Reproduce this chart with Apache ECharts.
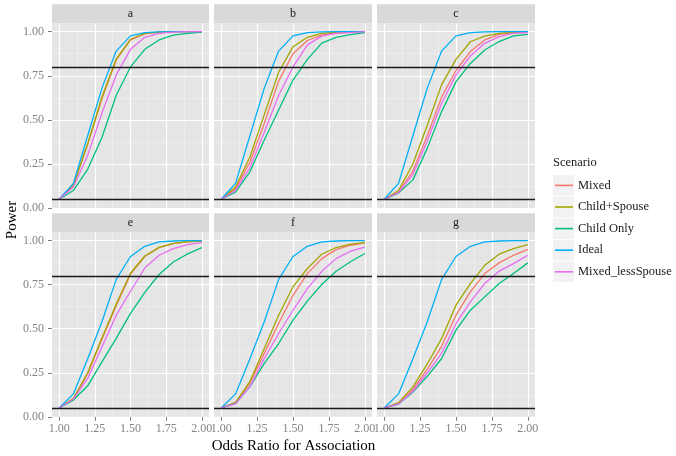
<!DOCTYPE html>
<html><head><meta charset="utf-8">
<script src="https://cdn.jsdelivr.net/npm/echarts@6/dist/echarts.min.js"></script>
<style>html,body{margin:0;padding:0;background:#fff}#c{width:676px;height:456px}</style>
</head><body><div id="c"></div>
<script>
// ---- data ----
const ODDS = [1.0, 1.1, 1.2, 1.3, 1.4, 1.5, 1.6, 1.7, 1.8, 1.9, 2.0];
const PANELS = ['a', 'b', 'c', 'e', 'f', 'g'];
const SCENARIOS = ['Mixed', 'Child+Spouse', 'Child Only', 'Ideal', 'Mixed_lessSpouse'];
const X_TICKS = [1.0, 1.25, 1.5, 1.75, 2.0];
const X_MINOR = [1.125, 1.375, 1.625, 1.875];
const Y_TICKS = [0, 0.25, 0.5, 0.75, 1.0];
const Y_MINOR = [0.125, 0.375, 0.625, 0.875];
const HLINES = [0.05, 0.8];

// rows: panels a, b, c, e, f, g
const MIXED = [
  [0.05,0.13,0.36,0.62,0.84,0.953,0.988,0.998,1,1,1],
  [0.05,0.11,0.26,0.48,0.72,0.875,0.95,0.98,0.995,0.999,1],
  [0.05,0.09,0.21,0.41,0.63,0.78,0.887,0.953,0.985,0.995,0.999],
  [0.05,0.10,0.245,0.44,0.63,0.81,0.91,0.96,0.983,0.993,0.997],
  [0.05,0.08,0.19,0.36,0.53,0.69,0.813,0.898,0.949,0.974,0.987],
  [0.05,0.075,0.155,0.27,0.40,0.577,0.709,0.813,0.874,0.917,0.95]
];
const CHILD_SPOUSE = [
  [0.05,0.13,0.365,0.63,0.845,0.957,0.99,0.998,1,1,1],
  [0.05,0.12,0.29,0.53,0.77,0.915,0.968,0.99,0.998,1,1],
  [0.05,0.10,0.25,0.47,0.70,0.843,0.943,0.975,0.99,0.997,1],
  [0.05,0.105,0.25,0.447,0.64,0.815,0.913,0.962,0.985,0.994,0.998],
  [0.05,0.082,0.20,0.388,0.577,0.738,0.842,0.923,0.961,0.98,0.989],
  [0.05,0.08,0.17,0.30,0.445,0.634,0.756,0.86,0.923,0.955,0.978]
];
const CHILD_ONLY = [
  [0.05,0.10,0.22,0.40,0.64,0.80,0.90,0.953,0.98,0.99,0.998],
  [0.05,0.09,0.206,0.386,0.556,0.726,0.843,0.935,0.968,0.983,0.995],
  [0.05,0.085,0.16,0.34,0.547,0.717,0.82,0.896,0.944,0.976,0.985],
  [0.05,0.095,0.176,0.312,0.445,0.587,0.706,0.808,0.879,0.925,0.961],
  [0.05,0.075,0.171,0.303,0.416,0.549,0.657,0.751,0.826,0.88,0.927],
  [0.05,0.072,0.14,0.23,0.331,0.492,0.605,0.681,0.757,0.813,0.874]
];
const IDEAL = [
  [0.05,0.14,0.41,0.68,0.89,0.976,0.995,0.999,1,1,1],
  [0.05,0.14,0.41,0.68,0.89,0.976,0.995,0.999,1,1,1],
  [0.05,0.14,0.41,0.68,0.89,0.976,0.995,0.999,1,1,1],
  [0.05,0.13,0.33,0.54,0.78,0.91,0.968,0.993,0.998,1,1],
  [0.05,0.13,0.33,0.54,0.78,0.91,0.968,0.993,0.998,1,1],
  [0.05,0.13,0.33,0.54,0.78,0.91,0.968,0.993,0.998,1,1]
];
const MIXED_LESS_SPOUSE = [
  [0.05,0.12,0.30,0.54,0.755,0.90,0.968,0.99,0.998,1,1],
  [0.05,0.10,0.23,0.43,0.64,0.80,0.925,0.975,0.99,0.995,1],
  [0.05,0.088,0.19,0.38,0.594,0.755,0.862,0.934,0.972,0.99,0.995],
  [0.05,0.10,0.218,0.397,0.577,0.713,0.845,0.917,0.955,0.978,0.989],
  [0.05,0.075,0.171,0.331,0.473,0.605,0.728,0.826,0.898,0.94,0.964],
  [0.05,0.073,0.145,0.25,0.36,0.53,0.653,0.757,0.827,0.87,0.917]
];
const VALUES = [MIXED, CHILD_SPOUSE, CHILD_ONLY, IDEAL, MIXED_LESS_SPOUSE];

// ---- styling ----
const COLORS = ['#F8766D', '#A3A500', '#00BF7D', '#00B0F6', '#E76BF3'];
const FONT = '"Liberation Serif", "Times New Roman", serif';
const COL_LEFT = [52, 214, 377];
const COL_W = [157, 158, 158];
const ROW_TOP = [23.3, 232.3];
const ROW_H = [184.8, 184.5];
const STRIP_H = 19;

const grids = [], xAxes = [], yAxes = [], series = [], graphics = [];
PANELS.forEach((p, i) => {
  const col = i % 3, row = Math.floor(i / 3);
  const g = {left: COL_LEFT[col], top: ROW_TOP[row], width: COL_W[col], height: ROW_H[row],
    show: true, backgroundColor: '#E5E5E5', borderWidth: 0};
  grids.push(g);
  const bottomRow = row === 1, leftCol = col === 0;
  xAxes.push({
    type: 'value', gridIndex: i, min: 0.95, max: 2.05, position: 'bottom',
    axisLine: {show: false},
    axisTick: {show: bottomRow, length: 4, customValues: X_TICKS, lineStyle: {color: '#7F7F7F', width: 1}},
    axisLabel: {show: bottomRow, customValues: X_TICKS, margin: 6, color: '#858585', fontSize: 12, fontFamily: FONT,
      formatter: v => v.toFixed(2)},
    splitLine: {show: true, lineStyle: {color: '#FFFFFF', width: 1.2}}
  });
  xAxes.push({
    type: 'value', gridIndex: i, min: 0.95, max: 2.05, position: 'top',
    axisLine: {show: false}, axisLabel: {show: false},
    axisTick: {show: false, customValues: X_MINOR},
    splitLine: {show: true, lineStyle: {color: '#F2F2F2', width: 0.6}}
  });
  yAxes.push({
    type: 'value', gridIndex: i, min: 0, max: 1.0475, position: 'left',
    axisLine: {show: false},
    axisTick: {show: leftCol, length: 4, customValues: Y_TICKS, lineStyle: {color: '#7F7F7F', width: 1}},
    axisLabel: {show: leftCol, customValues: Y_TICKS, margin: 8, color: '#858585', fontSize: 12, fontFamily: FONT,
      formatter: v => v.toFixed(2)},
    splitLine: {show: true, lineStyle: {color: '#FFFFFF', width: 1.2}}
  });
  yAxes.push({
    type: 'value', gridIndex: i, min: 0, max: 1.0475, position: 'right',
    axisLine: {show: false}, axisLabel: {show: false},
    axisTick: {show: false, customValues: Y_MINOR},
    splitLine: {show: true, lineStyle: {color: '#F2F2F2', width: 0.6}}
  });
  SCENARIOS.forEach((name, s) => {
    const ser = {
      type: 'line', name: name, xAxisIndex: 2 * i, yAxisIndex: 2 * i,
      data: ODDS.map((x, k) => [x, VALUES[s][i][k]]),
      showSymbol: false, symbol: 'none', color: COLORS[s],
      lineStyle: {width: 1.3, color: COLORS[s]}, silent: true, z: 3
    };
    if (s === SCENARIOS.length - 1) {
      ser.markLine = {silent: true, symbol: ['none', 'none'], label: {show: false},
        lineStyle: {color: '#1A1A1A', width: 1.4, type: 'solid'},
        emphasis: {disabled: true},
        data: HLINES.map(v => ({yAxis: v}))};
    }
    series.push(ser);
  });
  // facet strip
  graphics.push({type: 'rect', shape: {x: g.left, y: g.top - STRIP_H, width: g.width, height: STRIP_H},
    style: {fill: '#D9D9D9'}, silent: true});
  graphics.push({type: 'text', x: g.left + g.width / 2, y: g.top - STRIP_H / 2,
    style: {text: p, fill: '#1A1A1A', font: '12px ' + FONT, align: 'center', verticalAlign: 'middle'}, silent: true});
});

// legend decorations
const LEG_TOP = 174.6, LEG_STEP = 21.6;
graphics.push({type: 'text', x: 553, y: 163, style: {text: 'Scenario', fill: '#1A1A1A', font: '12.5px ' + FONT,
  align: 'left', verticalAlign: 'middle'}, silent: true});
SCENARIOS.forEach((n, s) => {
  graphics.push({type: 'rect', z: -1, shape: {x: 553, y: LEG_TOP + s * LEG_STEP + 0.5, width: 21, height: LEG_STEP - 1},
    style: {fill: '#F2F2F2'}, silent: true});
});
// axis titles
graphics.push({type: 'text', x: 293.5, y: 446, style: {text: 'Odds Ratio for Association', fill: '#000',
  font: '15px ' + FONT, align: 'center', verticalAlign: 'middle'}, silent: true});
graphics.push({type: 'text', x: 12, y: 220, rotation: Math.PI / 2, style: {text: 'Power', fill: '#000',
  font: '15px ' + FONT, align: 'center', verticalAlign: 'middle'}, silent: true});

const chart = echarts.init(document.getElementById('c'), null, {renderer: 'canvas'});
chart.setOption({
  animation: false,
  backgroundColor: '#FFFFFF',
  textStyle: {fontFamily: FONT},
  grid: grids, xAxis: xAxes, yAxis: yAxes, series: series,
  legend: {
    data: SCENARIOS, orient: 'vertical', left: 555, top: LEG_TOP, padding: 0, itemGap: 0,
    icon: 'rect', itemWidth: 18, itemHeight: 1.6, selectedMode: false,
    textStyle: {fontSize: 12.5, fontWeight: 'normal', lineHeight: LEG_STEP, color: '#1A1A1A', fontFamily: FONT, padding: [0, 0, 0, 0]}
  },
  graphic: graphics
});
</script>
</body></html>
